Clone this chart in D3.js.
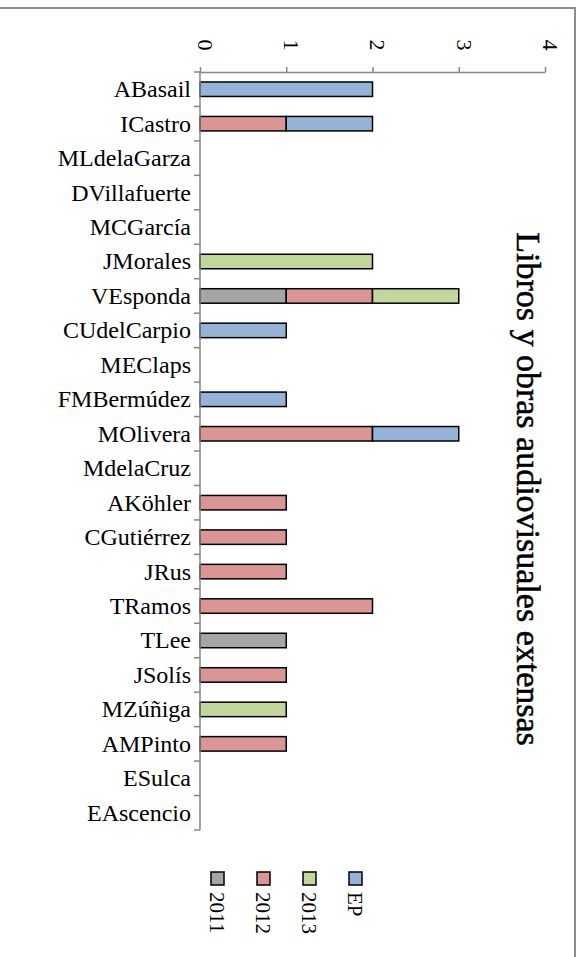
<!DOCTYPE html>
<html>
<head>
<meta charset="utf-8">
<script src="https://cdn.jsdelivr.net/npm/d3@7"></script>
<style>
  html, body { margin: 0; padding: 0; background: #fff; }
  svg { display: block; }
</style>
</head>
<body>
<div id="chart"></div>
<script>
// Categories (top to bottom)
const names = ["ABasail", "ICastro", "MLdelaGarza", "DVillafuerte", "MCGarcía", "JMorales",
  "VEsponda", "CUdelCarpio", "MEClaps", "FMBermúdez", "MOlivera", "MdelaCruz", "AKöhler",
  "CGutiérrez", "JRus", "TRamos", "TLee", "JSolís", "MZúñiga", "AMPinto", "ESulca", "EAscencio"];

// Series values, same order as names
const series = ["2011", "2012", "2013", "EP"];
const v2011 = [0, 0, 0, 0, 0, 0, 1, 0, 0, 0, 0, 0, 0, 0, 0, 0, 1, 0, 0, 0, 0, 0];
const v2012 = [0, 1, 0, 0, 0, 0, 1, 0, 0, 0, 2, 0, 1, 1, 1, 2, 0, 1, 0, 1, 0, 0];
const v2013 = [0, 0, 0, 0, 0, 2, 1, 0, 0, 0, 0, 0, 0, 0, 0, 0, 0, 0, 1, 0, 0, 0];
const vEP   = [2, 1, 0, 0, 0, 0, 0, 1, 0, 1, 1, 0, 0, 0, 0, 0, 0, 0, 0, 0, 0, 0];
const xTicks = [0, 1, 2, 3, 4];
const colors = ["#A5A5A5", "#D99694", "#C3D69B", "#95B3D7"];

const width = 584, height = 957;
const serif = "Liberation Serif, serif";
const axisColor = "#868686";

const svg = d3.select("#chart").append("svg")
  .attr("width", width)
  .attr("height", height);

// outer frame (left/bottom edges fall outside the picture)
svg.append("rect")
  .attr("x", -4).attr("y", 8)
  .attr("width", 579).attr("height", 960)
  .attr("fill", "none")
  .attr("stroke", "#8c8c8c")
  .attr("stroke-width", 2);

const table = names.map((n, i) => ({
  name: n, "2011": v2011[i], "2012": v2012[i], "2013": v2013[i], "EP": vEP[i]
}));
const stacked = d3.stack().keys(series)(table);

const x = d3.scaleLinear().domain([0, 4]).range([200, 545]);
const y = d3.scaleBand().domain(names).range([72, 830]).paddingInner(0.58).paddingOuter(0.29);
const color = d3.scaleOrdinal().domain(series).range(colors);

// bars
svg.append("g")
  .selectAll("g")
  .data(stacked)
  .join("g")
    .attr("fill", d => color(d.key))
  .selectAll("rect")
  .data(d => d.filter(s => s[1] - s[0] > 0))
  .join("rect")
    .attr("x", d => x(d[0]))
    .attr("y", d => y(d.data.name))
    .attr("width", d => x(d[1]) - x(d[0]))
    .attr("height", y.bandwidth())
    .attr("stroke", "#000")
    .attr("stroke-width", 1.5);

// value axis on top, labels turned
const xAxis = svg.append("g")
  .attr("transform", "translate(0,72)")
  .call(d3.axisTop(x).tickValues(xTicks).tickFormat(d3.format("d"))
    .tickSize(5).tickSizeOuter(0).tickPadding(0));
xAxis.select(".domain").attr("stroke", axisColor).attr("stroke-width", 1.5);
xAxis.selectAll(".tick line").attr("stroke", axisColor).attr("stroke-width", 1.5);
xAxis.selectAll(".tick text")
  .attr("fill", "#000")
  .attr("font-family", serif)
  .attr("font-size", 22)
  .attr("text-anchor", "middle")
  .attr("dy", "0.35em")
  .attr("transform", "translate(0,-27) rotate(90)");

// category axis
const yAxisG = svg.append("g")
  .attr("transform", "translate(200,0)");
yAxisG.append("line")
  .attr("y1", 72).attr("y2", 830)
  .attr("stroke", axisColor).attr("stroke-width", 1.5);
yAxisG.selectAll("line.tk")
  .data(names.concat(["end"]))
  .join("line")
    .attr("class", "tk")
    .attr("x1", -6).attr("x2", 0)
    .attr("y1", (d, i) => 72 + i * y.step())
    .attr("y2", (d, i) => 72 + i * y.step())
    .attr("stroke", axisColor).attr("stroke-width", 1.5);
yAxisG.selectAll("text")
  .data(names)
  .join("text")
    .attr("x", -9)
    .attr("y", d => y(d) + y.bandwidth() / 2)
    .attr("dy", "0.33em")
    .attr("text-anchor", "end")
    .attr("font-family", serif)
    .attr("font-size", 24)
    .attr("fill", "#000")
    .text(d => d);

// title, turned
svg.append("text")
  .attr("transform", "translate(529,489) rotate(90)")
  .attr("text-anchor", "middle")
  .attr("dy", "0.35em")
  .attr("font-family", serif)
  .attr("font-size", 34)
  .attr("fill", "#000")
  .attr("stroke", "#000")
  .attr("stroke-width", 0.5)
  .text("Libros y obras audiovisuales extensas");

// legend, turned
const legend = svg.append("g")
  .selectAll("g")
  .data(series)
  .join("g")
    .attr("transform", (d, i) => `translate(${217 + i * 46},879)`);
legend.append("rect")
  .attr("x", -6).attr("y", -7)
  .attr("width", 13).attr("height", 13)
  .attr("fill", d => color(d))
  .attr("stroke", "#000")
  .attr("stroke-width", 1.5);
legend.append("text")
  .attr("transform", "translate(0,13) rotate(90)")
  .attr("dy", "0.35em")
  .attr("font-family", serif)
  .attr("font-size", 21)
  .attr("fill", "#000")
  .text(d => d);
</script>
</body>
</html>
